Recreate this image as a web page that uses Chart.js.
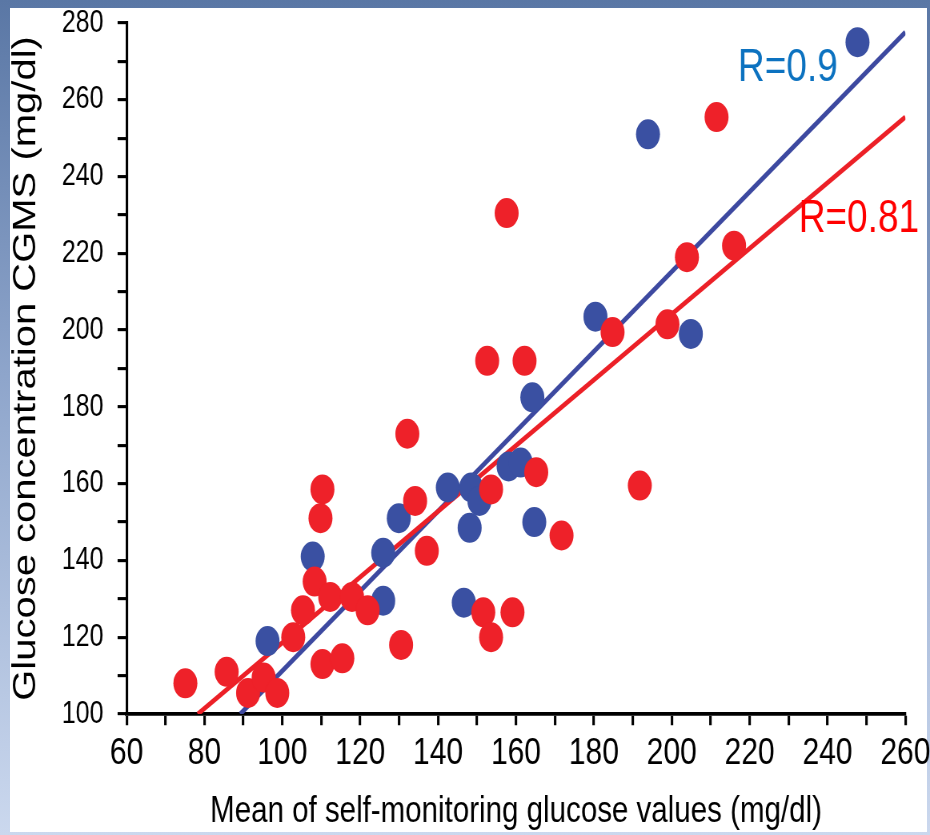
<!DOCTYPE html>
<html>
<head>
<meta charset="utf-8">
<script src="https://cdn.jsdelivr.net/npm/chart.js@4/dist/chart.umd.min.js"></script>
<style>
    html, body { margin: 0; padding: 0; }
    body {
        width: 930px; height: 835px; overflow: hidden; position: relative;
        background: linear-gradient(to bottom, #5a77a5 0%, #8ea5cb 45%, #cbd8ee 100%);
    }
    #panel { position: absolute; left: 10px; top: 8px; right: 3px; bottom: 3px; background: #fff; }
    /* the source figure is stretched vertically, so draw at 668px high and stretch */
    #wrap {
        position: absolute; left: 0; top: 0; width: 930px; height: 668px;
        transform: scaleY(1.25); transform-origin: 0 0;
    }
</style>
</head>
<body>
<div id="panel"></div>
<div id="wrap"><canvas id="chartCanvas"></canvas></div>
<script>
// Blue group (R=0.9)
const blueX = [247.7, 193.9, 180.4, 204.9, 164.2, 158.1, 161.2, 142.5, 148.5, 150.6, 148.1, 129.9, 125.9, 125.9, 146.6, 164.7, 107.8, 96.2];
const blueY = [275, 251, 203.5, 199, 182.5, 164.5, 165.5, 159, 159, 155.5, 148.5, 151, 142, 129.5, 129, 150, 141, 119];

// Red group (R=0.81)
const redX = [75.1, 85.7, 91.2, 95.2, 98.7, 102.8, 105.3, 108.3, 112.3, 117.9, 121.9, 110.3, 115.4, 110.3, 109.8,
    152.6, 162.2, 132.1, 134.1, 165.2, 153.6, 191.8, 137.1, 171.7, 151.6, 159.1, 153.6, 130.5, 157.6,
    211.5, 203.9, 216, 184.8, 198.9];
const redY = [108, 111, 105.5, 109.5, 105.5, 120, 127, 134.5, 130.5, 130.5, 127, 113, 114.5, 158.5, 151,
    192, 192, 173, 155.5, 163, 158.5, 159.5, 142.5, 146.5, 126.5, 126.5, 120, 118, 230.5,
    255.5, 219, 222, 199.5, 201.5];

// Regression lines (end points)
const blueFitX = [89.2, 260];
const blueFitY = [100, 277.6];
const redFitX = [78.3, 260];
const redFitY = [100, 255.5];

// Correlation labels, anchored in data units
const rLabels = ['R=0.9', 'R=0.81'];
const rLabelX = [217, 232.6];
const rLabelY = [265, 225.5];

const xTicksEvery = 20;
const yTicksEvery = 20;

const BLUE = '#3a50a2';
const RED = '#ee2129';

function toPoints(xs, ys) {
    return xs.map((x, i) => ({ x: x, y: ys[i] }));
}

const rLabelPlugin = {
    id: 'rLabels',
    afterDatasetsDraw(chart) {
        const ctx = chart.ctx;
        const colors = ['#0c72c0', '#ff0000'];
        ctx.save();
        ctx.font = '37px "Liberation Sans", Arial, sans-serif';
        ctx.textAlign = 'left';
        ctx.textBaseline = 'alphabetic';
        rLabels.forEach(function (t, i) {
            ctx.fillStyle = colors[i];
            ctx.fillText(t, chart.scales.x.getPixelForValue(rLabelX[i]), chart.scales.y.getPixelForValue(rLabelY[i]));
        });
        ctx.restore();
    },
};

const ctx = document.getElementById('chartCanvas');
new Chart(ctx, {
    type: 'scatter',
    data: {
        datasets: [
            {
                data: toPoints(redX, redY),
                backgroundColor: RED,
                borderWidth: 0,
                pointRadius: 12,
                pointHoverRadius: 12,
                order: 0,
                clip: false,
            },
            {
                data: toPoints(blueX, blueY),
                backgroundColor: BLUE,
                borderWidth: 0,
                pointRadius: 12,
                pointHoverRadius: 12,
                order: 1,
                clip: false,
            },
            {
                type: 'line',
                data: toPoints(redFitX, redFitY),
                borderColor: '#ec2027',
                borderWidth: 4,
                pointRadius: 0,
                order: 2,
            },
            {
                type: 'line',
                data: toPoints(blueFitX, blueFitY),
                borderColor: '#3d49a0',
                borderWidth: 4,
                pointRadius: 0,
                order: 3,
            },
        ],
    },
    options: {
        responsive: true,
        maintainAspectRatio: false,
        animation: false,
        devicePixelRatio: 1.25,
        layout: { padding: { top: 18.4, right: 25, left: 0, bottom: 0 } },
        plugins: {
            legend: { display: false },
            tooltip: { enabled: false },
        },
        scales: {
            x: {
                type: 'linear',
                min: 60,
                max: 260,
                afterFit: function (scale) {
                    scale.height = 96.8;
                    scale.paddingLeft = 0;
                    scale.paddingRight = 0;
                },
                ticks: {
                    stepSize: 10,
                    autoSkip: false,
                    maxRotation: 0,
                    padding: 5,
                    color: '#000',
                    font: { family: '"Liberation Sans Narrow", "Arial Narrow", "Liberation Sans", sans-serif', size: 30 },
                    callback: v => (v % xTicksEvery === 0 ? v : ''),
                },
                grid: { drawOnChartArea: false, drawTicks: true, tickLength: 9, tickWidth: 2.5, tickColor: '#000' },
                border: { display: true, color: '#000', width: 3 },
                title: {
                    display: true,
                    text: 'Mean of self-monitoring glucose values (mg/dl)',
                    color: '#000',
                    font: { family: '"Liberation Sans", Arial, sans-serif', size: 29.5 },
                    padding: { top: 0, bottom: 1 },
                },
            },
            y: {
                type: 'linear',
                min: 100,
                max: 280,
                afterFit: function (scale) {
                    scale.width = 126.5;
                    scale.paddingTop = 0;
                    scale.paddingBottom = 0;
                },
                ticks: {
                    stepSize: 10,
                    autoSkip: false,
                    padding: 14,
                    color: '#000',
                    font: { family: '"Liberation Sans", Arial, sans-serif', size: 25 },
                    callback: v => (v % yTicksEvery === 0 ? v : ''),
                },
                grid: { drawOnChartArea: false, drawTicks: true, tickLength: 9, tickWidth: 2.5, tickColor: '#000' },
                border: { display: true, color: '#000', width: 2.5 },
                title: {
                    display: true,
                    text: 'Glucose concentration CGMS (mg/dl)',
                    color: '#000',
                    font: { family: '"Liberation Sans", Arial, sans-serif', size: 32 },
                    padding: { top: 7, bottom: 0 },
                },
            },
        },
    },
    plugins: [rLabelPlugin],
});
</script>
</body>
</html>
